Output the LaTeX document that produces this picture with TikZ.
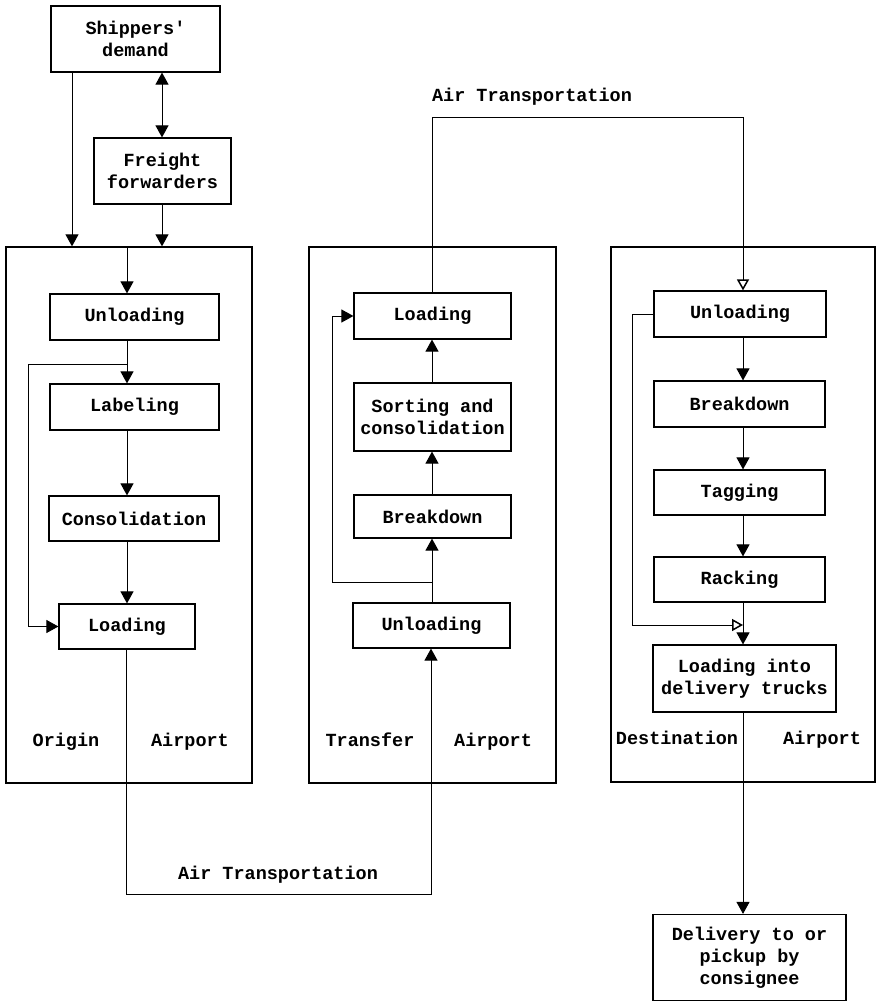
\documentclass[tikz,border=0pt]{standalone}
\usepackage{fontspec}
\usetikzlibrary{arrows.meta}
\newfontfamily\courfont{Liberation Mono}
\begin{document}
\begin{tikzpicture}[x=1pt,y=-1pt,
  txt/.style={font=\courfont\bfseries\fontsize{18.5}{22}\selectfont, align=center, inner sep=0pt},
  lbl/.style={txt, anchor=base},
  bx/.style 2 args={draw, line width=1.2pt, txt, minimum width=#1pt, minimum height=#2pt},
  frame/.style 2 args={draw, line width=1.3pt, minimum width=#1pt, minimum height=#2pt, inner sep=0pt},
  conn/.style={line width=1pt},
  arr/.style={conn, -{Triangle[width=13pt,length=12pt]}},
  oarr/.style={conn, -{Triangle[open,width=12pt,length=11pt,line width=1.5pt]}},
  darr/.style={conn, {Triangle[width=13pt,length=12pt]}-{Triangle[width=13pt,length=12pt]}}
]
\useasboundingbox (0,0) rectangle (878,1003);

% frames
\node[frame={246}{536}] (OF) at (129,515) {};
\node[frame={247}{536}] (TF) at (432.5,515) {};
\node[frame={264}{535}] (DF) at (743,514.5) {};

% top boxes
\node[bx={169}{66}] (Ship) at (135.5,39) {Shippers'\\demand};
\node[bx={137}{66}] (FF) at (162.5,171) {Freight\\forwarders};

% origin
\node[bx={169}{46}] (OUnl) at (134.5,317) {Unloading};
\node[bx={169}{46}] (OLab) at (134.5,407) {Labeling};
\node[bx={170}{45}] (OCon) at (134,518.5) {Consolidation};
\node[bx={136}{45}] (OLoad) at (127,626.5) {Loading};

% transfer
\node[bx={157}{46}] (TLoad) at (432.5,316) {Loading};
\node[bx={157}{68}] (TSort) at (432.5,417) {Sorting and\\consolidation};
\node[bx={157}{43}] (TBrk) at (432.5,516.5) {Breakdown};
\node[bx={157}{45}] (TUnl) at (431.5,625.5) {Unloading};

% destination
\node[bx={172}{46}] (DUnl) at (740,314) {Unloading};
\node[bx={171}{46}] (DBrk) at (739.5,404) {Breakdown};
\node[bx={171}{45}] (DTag) at (739.5,492.5) {Tagging};
\node[bx={171}{45}] (DRack) at (739.5,579.5) {Racking};
\node[bx={183}{67}] (DTruck) at (744.5,678.5) {Loading into\\delivery trucks};
\node[bx={193}{86}] (Deliv) at (749.5,957.5) {Delivery to or\\pickup by\\consignee};

% labels
\node[lbl] (lo1) at (66,746) {Origin};
\node[lbl] (lo2) at (190,746) {Airport};
\node[lbl] (lt1) at (370,746) {Transfer};
\node[lbl] (lt2) at (493,746) {Airport};
\node[lbl] (ld1) at (677,744) {Destination};
\node[lbl] (ld2) at (822,744) {Airport};
\node[lbl] (atop) at (532,102) {Air Transportation};
\node[lbl] (abot) at (278,879) {Air Transportation};

% column coordinates
\coordinate (sx) at (72,0);
\coordinate (fx) at (162,0);
\coordinate (ox) at (127,0);
\coordinate (odx) at (126,0);
\coordinate (tx) at (432,0);
\coordinate (dx) at (743,0);
\coordinate (ofb) at (28,0);
\coordinate (tfb) at (332,0);
\coordinate (dfb) at (632,0);

% top connectors
\draw[arr] (Ship.south -| sx) -- (OF.north -| sx);
\draw[darr] (Ship.south -| fx) -- (FF.north -| fx);
\draw[arr] (FF.south -| fx) -- (OF.north -| fx);

% origin flow
\draw[arr] (OF.north -| ox) -- (OUnl.north -| ox);
\coordinate (obr) at (127,364);
\draw[arr] (OUnl.south -| ox) -- (OLab.north -| ox);
\draw[arr] (OLab.south -| ox) -- (OCon.north -| ox);
\draw[arr] (OCon.south -| ox) -- (OLoad.north -| ox);
\draw[arr] (obr) -- (obr -| ofb) -- (OLoad.west -| ofb) -- (OLoad.west);

% air transport bottom
\coordinate (ab1) at (126,894);
\coordinate (ab2) at (431,894);
\draw[arr] (OLoad.south -| odx) -- (ab1) -- (ab2) -- (TUnl.south -| ab2);

% transfer flow
\draw[arr] (TUnl.north -| tx) -- (TBrk.south -| tx);
\draw[arr] (TBrk.north -| tx) -- (TSort.south -| tx);
\draw[arr] (TSort.north -| tx) -- (TLoad.south -| tx);
\coordinate (tbr) at (432,582);
\draw[arr] (tbr) -- (tbr -| tfb) -- (TLoad.west -| tfb) -- (TLoad.west);

% air transport top
\coordinate (at1) at (432,118);
\coordinate (at2) at (743,118);
\draw[oarr] (TLoad.north -| tx) -- (at1) -- (at2) -- (DUnl.north -| dx);

% destination flow
\draw[arr] (DUnl.south -| dx) -- (DBrk.north -| dx);
\draw[arr] (DBrk.south -| dx) -- (DTag.north -| dx);
\draw[arr] (DTag.south -| dx) -- (DRack.north -| dx);
\draw[arr] (DRack.south -| dx) -- (DTruck.north -| dx);
\coordinate (dj) at (743,625);
\draw[oarr] (DUnl.west) -- (DUnl.west -| dfb) -- (dj -| dfb) -- (dj);
\draw[arr] (DTruck.south -| dx) -- (Deliv.north -| dx);
\end{tikzpicture}
\end{document}
